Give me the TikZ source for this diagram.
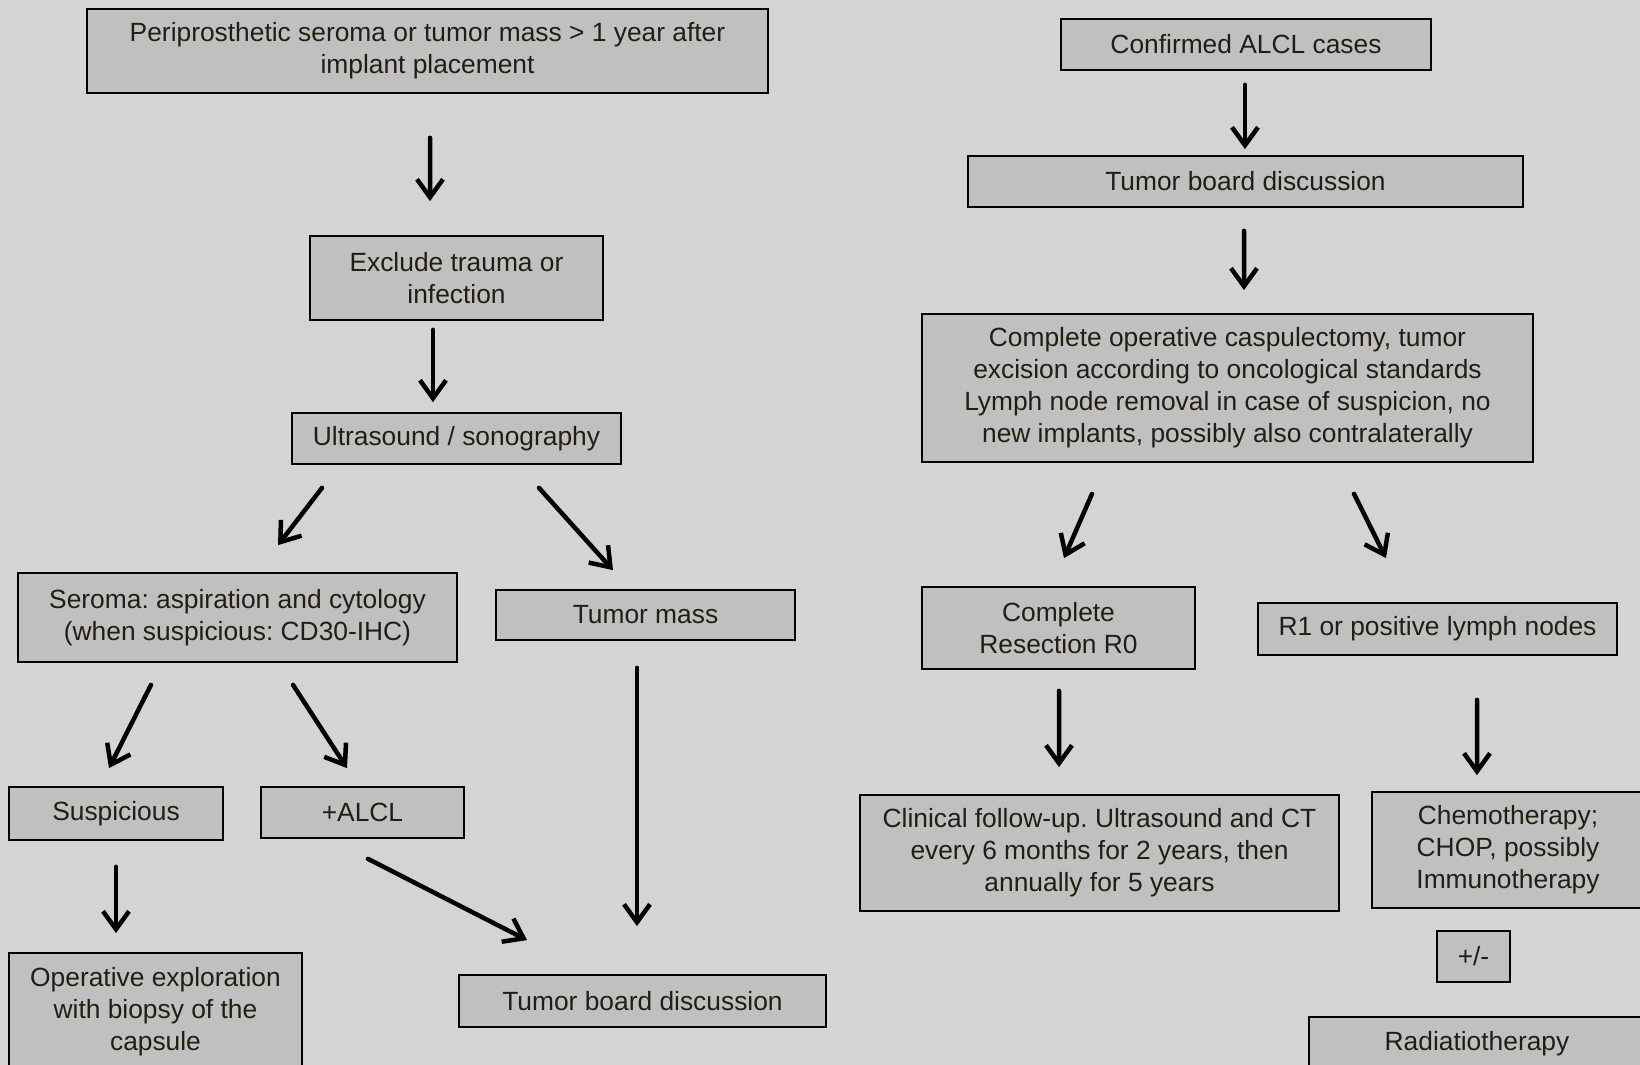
\documentclass[tikz,border=0pt]{standalone}
\usepackage{fontspec}
\setmainfont{Liberation Sans}
\usetikzlibrary{arrows.meta,calc}
\definecolor{bggray}{HTML}{D4D4D4}
\definecolor{boxgray}{HTML}{C0C0C0}
\definecolor{txtdark}{HTML}{221E14}
\frenchspacing
\begin{document}
\begin{tikzpicture}[x=0.1mm,y=-0.1mm,
  box/.style={rectangle,draw,line width=0.5pt,fill=boxgray,text=txtdark,align=center,inner sep=0pt,font=\fontsize{7.5}{9.1}\selectfont},
  arr/.style={-{Straight Barb[length=1.8mm,width=2.6mm]},line width=0.45mm,line cap=round}]
\fill[bggray] (0,0) rectangle (1640,1065);
\useasboundingbox (0,0) rectangle (1640,1065);
\clip (0,0) rectangle (1640,1065);
%
% left column
\node at (427.5,51) [box,minimum width=68.1mm,minimum height=8.4mm] (per) {Periprosthetic seroma or tumor mass > 1 year after\\implant placement};
\node at (456.5,278) [box,minimum width=29.3mm,minimum height=8.4mm] (excl) {Exclude trauma or\\infection};
\node at (456.5,438.5) [box,minimum width=32.9mm,minimum height=5.1mm] (ultra) {Ultrasound / sonography};
\node at (237.5,617.5) [box,minimum width=43.9mm,minimum height=8.9mm] (seroma) {Seroma: aspiration and cytology\\(when suspicious: CD30-IHC)};
\node at (645.5,615) [box,minimum width=29.9mm,minimum height=5mm] (tmass) {Tumor mass};
\node at (116,813.5) [box,minimum width=21.4mm,minimum height=5.3mm] (susp) {Suspicious};
\node at (362.5,812.5) [box,minimum width=20.3mm,minimum height=5.1mm] (alcl) {+ALCL};
\node at (155.5,1012) [box,minimum width=29.3mm,minimum height=11.8mm] (opexp) {Operative exploration\\with biopsy of the\\capsule};
\node at (642.5,1001) [box,minimum width=36.7mm,minimum height=5.2mm] (tbl) {Tumor board discussion};
%
% right column
\node at (1246,44.5) [box,minimum width=37mm,minimum height=5.1mm] (conf) {Confirmed ALCL cases};
\node at (1245.5,181.5) [box,minimum width=55.5mm,minimum height=5.1mm] (tbr) {Tumor board discussion};
\node at (1227.5,388) [box,minimum width=61.1mm,minimum height=14.8mm] (cop) {Complete operative caspulectomy, tumor\\excision according to oncological standards\\Lymph node removal in case of suspicion, no\\new implants, possibly also contralaterally};
\node at (1058.5,628) [box,minimum width=27.3mm,minimum height=8.2mm] (r0) {Complete\\Resection R0};
\node at (1437.5,629) [box,minimum width=35.9mm,minimum height=5.2mm] (r1) {R1 or positive lymph nodes};
\node at (1099.5,853) [box,minimum width=47.9mm,minimum height=11.6mm] (fup) {Clinical follow-up. Ultrasound and CT\\every 6 months for 2 years, then\\annually for 5 years};
\node at (1508,850) [box,minimum width=27.2mm,minimum height=11.6mm] (chemo) {Chemotherapy;\\CHOP, possibly\\Immunotherapy};
\node at (1473.5,956.5) [box,minimum width=7.3mm,minimum height=5.1mm] (pm) {+/-};
\node at (1477,1044) [box,minimum width=33.6mm,minimum height=5.4mm] (radio) {Radiatiotherapy};
%
%
\draw[arr] ($(per.south)+(2.5,44)$) -- ($(excl.north)+(-26.5,-34)$);
\draw[arr] ($(excl.south)+(-23.5,9)$) -- ($(ultra.north)+(-23.5,-10)$);
\draw[arr] ($(ultra.south)+(-134.5,23)$) -- ($(seroma.north)+(40.5,-27)$);
\draw[arr] ($(ultra.south)+(82.5,23)$) -- ($(tmass.north)+(-32.5,-19)$);
%
\draw[arr] ($(seroma.south)+(-86.5,22)$) -- ($(susp.north)+(-7,-18)$);
\draw[arr] ($(seroma.south)+(55.5,22)$) -- ($(alcl.north)+(-15.5,-18)$);
\draw[arr] ($(susp.south)+(0,26)$) -- ($(opexp.north)+(-39.5,-19)$);
\draw[arr] ($(alcl.south)+(5.5,20)$) -- ($(tbl.north)+(-115.5,-34)$);
\draw[arr] ($(tmass.south)+(-8.5,27)$) -- ($(tbl.north)+(-5.5,-48)$);
%
\draw[arr] ($(conf.south)+(-1,14)$) -- ($(tbr.north)+(-0.5,-6)$);
\draw[arr] ($(tbr.south)+(-1.5,23)$) -- ($(cop.north)+(16.5,-23)$);
\draw[arr] ($(cop.south)+(-135.5,31)$) -- ($(r0.north)+(5.5,-28)$);
\draw[arr] ($(cop.south)+(126.5,31)$) -- ($(r1.north)+(-51.5,-44)$);
\draw[arr] ($(r0.south)+(0.5,21)$) -- ($(fup.north)+(-40.5,-27)$);
\draw[arr] ($(r1.south)+(39.5,44)$) -- ($(chemo.north)+(-31,-16)$);
\end{tikzpicture}
\end{document}
